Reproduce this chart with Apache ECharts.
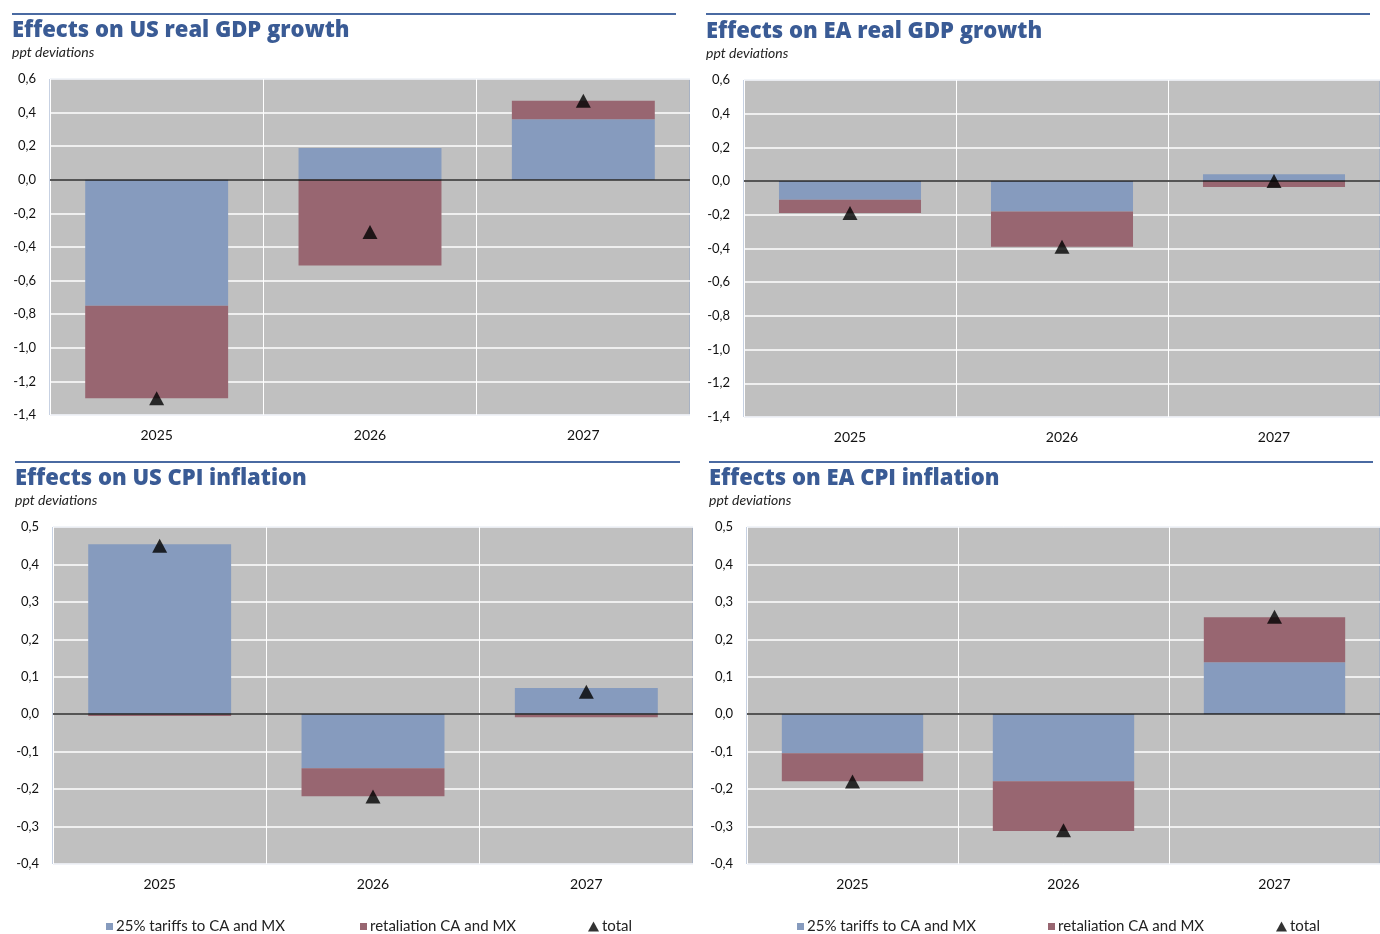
<!DOCTYPE html>
<html>
<head>
<meta charset="utf-8">
<script src="https://cdn.jsdelivr.net/npm/echarts@6/dist/echarts.min.js"></script>
<style>
  html, body { margin: 0; padding: 0; background: #fff; }
  #main { width: 1380px; height: 934px; }
</style>
</head>
<body>
<div id="main"></div>
<script>
const years = ['2025', '2026', '2027']

// US real GDP growth
const usGdpTariffs = [-0.75, 0.19, 0.36]
const usGdpRetaliation = [-0.55, -0.51, 0.11]
const usGdpTotal = [-1.30, -0.31, 0.47]

// EA real GDP growth
const eaGdpTariffs = [-0.11, -0.18, 0.04]
const eaGdpRetaliation = [-0.08, -0.21, -0.035]
const eaGdpTotal = [-0.19, -0.39, 0.0]

// US CPI inflation
const usCpiTariffs = [0.454, -0.144, 0.07]
const usCpiRetaliation = [-0.005, -0.075, -0.008]
const usCpiTotal = [0.45, -0.22, 0.06]

// EA CPI inflation
const eaCpiTariffs = [-0.104, -0.179, 0.139]
const eaCpiRetaliation = [-0.075, -0.133, 0.12]
const eaCpiTotal = [-0.18, -0.31, 0.26]

const seriesNames = ['25% tariffs to CA and MX', 'retaliation CA and MX', 'total']

const BLUE = '#869bbe'
const MAROON = '#986671'
const TITLE_COLOR = '#3a5b95'
const FONT = 'Lato, "Open Sans", sans-serif'
const TITLE_FONT = '"Open Sans", Lato, sans-serif'

const panels = [
  { title: 'Effects on US real GDP growth', tx: 12, ty: 20, sy: 45,
    grid: { left: 50, top: 79, width: 640, height: 336 },
    min: -1.4, max: 0.6, interval: 0.2,
    tariffs: usGdpTariffs, retal: usGdpRetaliation, total: usGdpTotal },
  { title: 'Effects on EA real GDP growth', tx: 706, ty: 21, sy: 46,
    grid: { left: 744, top: 80, width: 636, height: 337 },
    min: -1.4, max: 0.6, interval: 0.2,
    tariffs: eaGdpTariffs, retal: eaGdpRetaliation, total: eaGdpTotal },
  { title: 'Effects on US CPI inflation', tx: 15, ty: 468, sy: 493,
    grid: { left: 53, top: 527, width: 640, height: 337 },
    min: -0.4, max: 0.5, interval: 0.1,
    tariffs: usCpiTariffs, retal: usCpiRetaliation, total: usCpiTotal },
  { title: 'Effects on EA CPI inflation', tx: 709, ty: 468, sy: 493,
    grid: { left: 747, top: 527, width: 633, height: 337 },
    min: -0.4, max: 0.5, interval: 0.1,
    tariffs: eaCpiTariffs, retal: eaCpiRetaliation, total: eaCpiTotal }
]

const titles = []
const grids = []
const xAxes = []
const yAxes = []
const series = []

panels.forEach((p, i) => {
  titles.push({
    text: p.title, left: p.tx, top: p.ty, padding: 0,
    textStyle: { color: TITLE_COLOR, fontFamily: TITLE_FONT, fontSize: 22, fontWeight: 800 }
  })
  titles.push({
    text: 'ppt deviations', left: p.tx, top: p.sy, padding: 0,
    textStyle: { color: '#222', fontFamily: FONT, fontSize: 14, fontStyle: 'italic', fontWeight: 'normal' }
  })
  grids.push(Object.assign({
    show: true, backgroundColor: '#c0c0c0', borderColor: '#8ea2c4', borderWidth: 1
  }, p.grid))
  xAxes.push({
    type: 'category', gridIndex: i, data: years,
    axisLine: { show: false, onZero: false },
    axisTick: { show: false },
    splitLine: { show: true, lineStyle: { color: '#ffffff', width: 1 } },
    axisLabel: { color: '#111', fontFamily: FONT, fontSize: 14, margin: 13 }
  })
  yAxes.push({
    type: 'value', gridIndex: i, min: p.min, max: p.max, interval: p.interval,
    axisLine: { show: false }, axisTick: { show: false },
    splitLine: { lineStyle: { color: '#ffffff', width: 1.5 } },
    axisLabel: {
      color: '#111', fontFamily: FONT, fontSize: 13, margin: 14,
      formatter: v => v.toFixed(1).replace('.', ',')
    }
  })
  series.push({
    name: seriesNames[0], type: 'bar', xAxisIndex: i, yAxisIndex: i,
    stack: 'p' + i, barWidth: '67%', data: p.tariffs,
    itemStyle: { color: BLUE },
    markLine: {
      silent: true, symbol: 'none', label: { show: false },
      lineStyle: { color: '#222', width: 1.5, type: 'solid' },
      data: [{ yAxis: 0 }]
    }
  })
  series.push({
    name: seriesNames[1], type: 'bar', xAxisIndex: i, yAxisIndex: i,
    stack: 'p' + i, barWidth: '67%', data: p.retal,
    itemStyle: { color: MAROON }
  })
  series.push({
    name: seriesNames[2], type: 'scatter', xAxisIndex: i, yAxisIndex: i,
    symbol: 'triangle', symbolSize: [15, 14], data: p.total, z: 5,
    itemStyle: { color: '#000' }
  })
})

// one legend entry per component so each can sit where the reference has it
const legendSpots = [
  [106, 0], [360, 1], [588, 2],
  [797, 0], [1048, 1], [1276, 2]
]
const legends = legendSpots.map(([x, k]) => ({
  data: [{ name: seriesNames[k], icon: k === 2 ? 'triangle' : 'rect' }],
  left: x, top: 919, padding: 0,
  itemWidth: k === 2 ? 11 : 7, itemHeight: k === 2 ? 10 : 7,
  selectedMode: false,
  textStyle: { color: '#222', fontFamily: FONT, fontSize: 15, padding: [0, 0, 0, -2] }
}))

const chart = echarts.init(document.getElementById('main'))
chart.setOption({
  animation: false,
  backgroundColor: '#fff',
  title: titles,
  graphic: [
    { type: 'line', shape: { x1: 12, y1: 14, x2: 676, y2: 14 }, style: { stroke: '#4a6aa2', lineWidth: 2 } },
    { type: 'line', shape: { x1: 706, y1: 14, x2: 1370, y2: 14 }, style: { stroke: '#4a6aa2', lineWidth: 2 } },
    { type: 'line', shape: { x1: 15, y1: 462, x2: 680, y2: 462 }, style: { stroke: '#4a6aa2', lineWidth: 2 } },
    { type: 'line', shape: { x1: 709, y1: 462, x2: 1373, y2: 462 }, style: { stroke: '#4a6aa2', lineWidth: 2 } }
  ],
  legend: legends,
  grid: grids,
  xAxis: xAxes,
  yAxis: yAxes,
  series: series
})
</script>
</body>
</html>
